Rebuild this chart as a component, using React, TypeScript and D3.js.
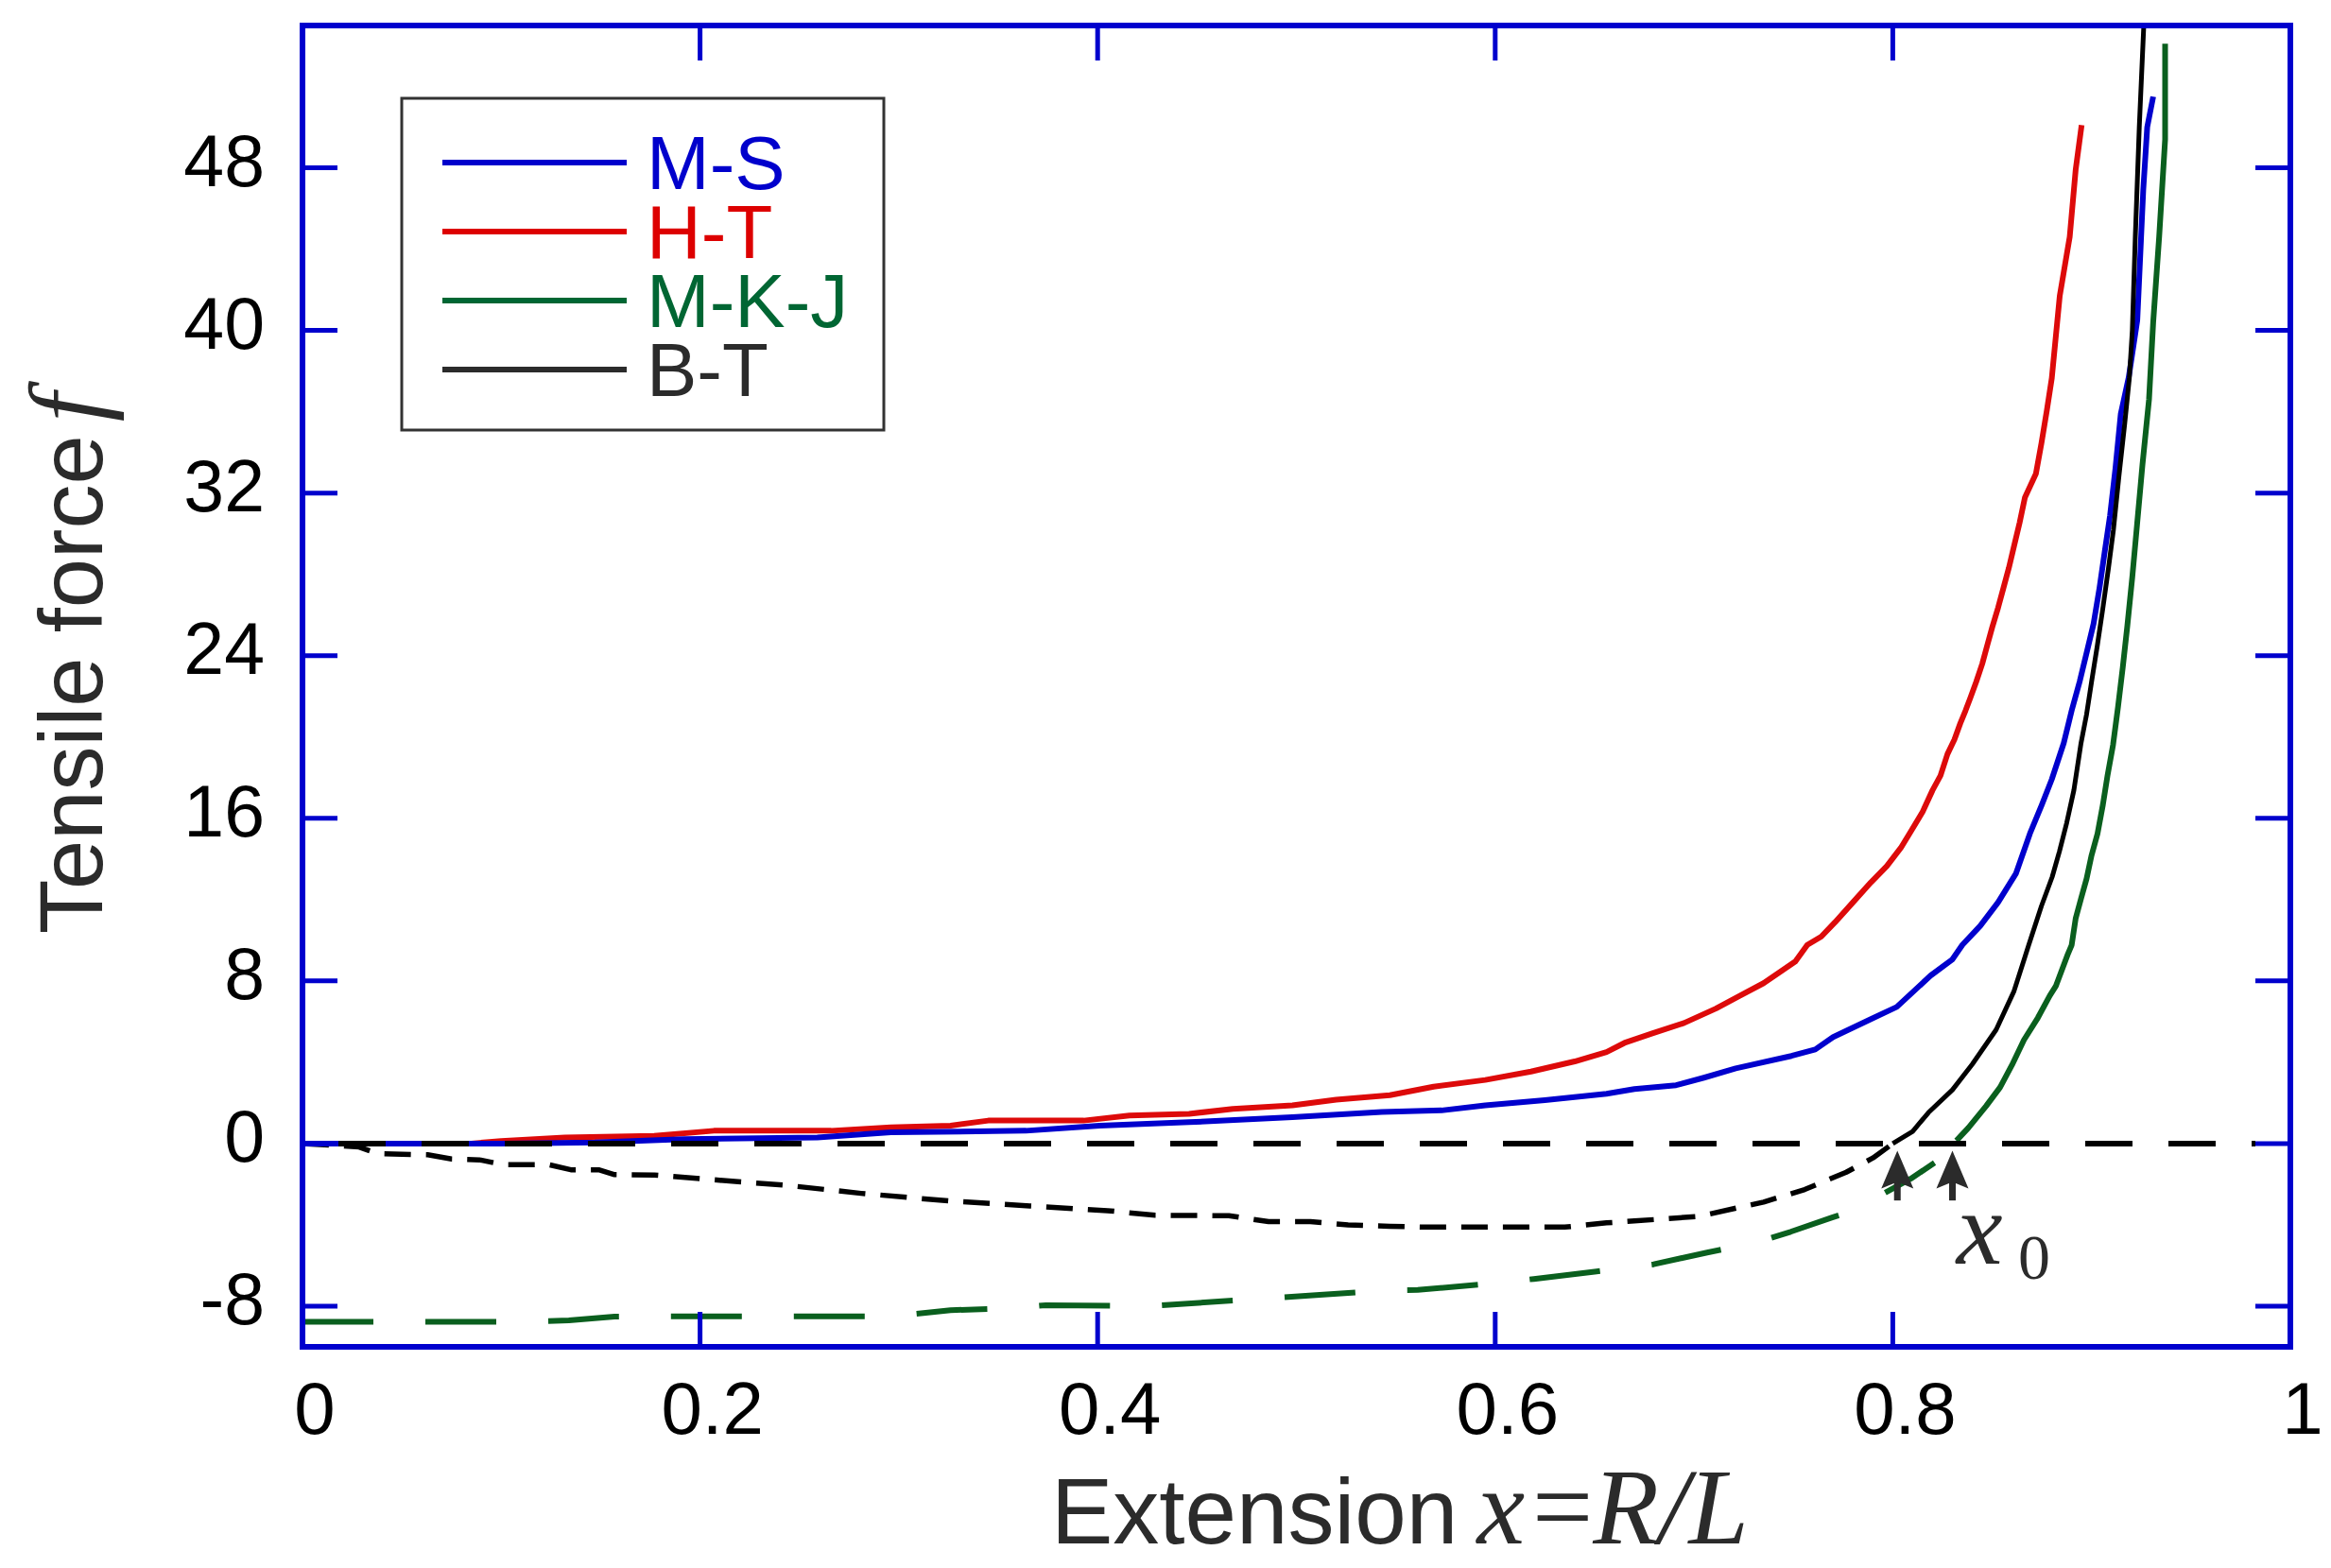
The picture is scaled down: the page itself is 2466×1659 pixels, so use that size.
import * as d3 from "d3"

// axis ticks
const xTicks = [0, 0.2, 0.4, 0.6, 0.8, 1]
const xTickLabels = ["0", "0.2", "0.4", "0.6", "0.8", "1"]
const yTicks = [-8, 0, 8, 16, 24, 32, 40, 48]

// series: [extension x, force f]
const msCurve: [number, number][] = [
  [0, 0], [0.10, 0], [0.147, 0.05], [0.192, 0.22], [0.259, 0.30], [0.296, 0.55],
  [0.364, 0.63], [0.401, 0.88], [0.446, 1.05], [0.498, 1.30], [0.543, 1.55],
  [0.573, 1.63], [0.595, 1.88], [0.625, 2.13], [0.656, 2.45], [0.670, 2.68],
  [0.691, 2.87], [0.705, 3.24], [0.721, 3.70], [0.749, 4.31], [0.761, 4.63],
  [0.770, 5.24], [0.790, 6.17], [0.802, 6.72], [0.819, 8.26], [0.830, 9.06],
  [0.835, 9.77], [0.844, 10.71], [0.853, 11.87], [0.862, 13.29], [0.869, 15.25],
  [0.875, 16.67], [0.880, 17.92], [0.886, 19.7], [0.890, 21.3], [0.894, 22.72],
  [0.8975, 24.14], [0.901, 25.57], [0.904, 27.34], [0.9066, 29.1], [0.9093, 30.9],
  [0.912, 33.2], [0.9147, 35.9], [0.9187, 37.7], [0.923, 40.5], [0.926, 46.9],
  [0.928, 50.0], [0.931, 51.5],
]

const htCurve: [number, number][] = [
  [0, 0], [0.085, 0], [0.10, 0.13], [0.132, 0.3], [0.177, 0.38], [0.207, 0.63],
  [0.266, 0.63], [0.296, 0.8], [0.326, 0.88], [0.345, 1.13], [0.393, 1.13],
  [0.416, 1.38], [0.446, 1.46], [0.468, 1.71], [0.498, 1.88], [0.520, 2.16],
  [0.547, 2.38], [0.569, 2.80], [0.595, 3.13], [0.618, 3.54], [0.640, 4.04],
  [0.656, 4.5], [0.665, 4.95], [0.679, 5.42], [0.695, 5.93], [0.711, 6.64],
  [0.723, 7.27], [0.735, 7.89], [0.751, 8.96], [0.757, 9.77], [0.764, 10.18],
  [0.771, 10.89], [0.780, 11.87], [0.789, 12.85], [0.797, 13.65], [0.804, 14.54],
  [0.809, 15.34], [0.815, 16.32], [0.820, 17.38], [0.824, 18.1], [0.8275, 19.16],
  [0.831, 19.87], [0.834, 20.68], [0.8366, 21.3], [0.839, 21.92], [0.842, 22.72],
  [0.845, 23.6], [0.8475, 24.5], [0.850, 25.39], [0.853, 26.37], [0.8557, 27.34],
  [0.8584, 28.32], [0.861, 29.39], [0.8638, 30.54], [0.8665, 31.79], [0.872, 32.95],
  [0.8748, 34.46], [0.8775, 36.06], [0.880, 37.66], [0.884, 41.7], [0.889, 44.6],
  [0.892, 47.9], [0.895, 50.1],
]

const mkjCurve: [number, number][] = [
  [0.832, 0.14], [0.838, 0.77], [0.847, 1.85], [0.854, 2.77], [0.860, 3.87],
  [0.866, 5.1], [0.873, 6.19], [0.879, 7.28], [0.882, 7.74], [0.888, 9.3],
  [0.890, 9.77], [0.892, 11.07], [0.8947, 12.05], [0.8975, 13.03], [0.900, 14.18],
  [0.903, 15.25], [0.9057, 16.67], [0.908, 18.09], [0.9108, 19.61], [0.9133, 21.47],
  [0.9157, 23.43], [0.918, 25.47], [0.9205, 27.88], [0.9229, 30.46], [0.9256, 33.39],
  [0.9289, 36.6], [0.931, 40.4], [0.934, 44.6], [0.937, 49.4], [0.937, 54.1],
]

const mkjNegative: [number, number][] = [
  [0, -8.77], [0.112, -8.77], [0.134, -8.7], [0.157, -8.51], [0.17, -8.5],
  [0.296, -8.5], [0.326, -8.2], [0.356, -8.1], [0.374, -7.95], [0.4245, -8.0],
  [0.4737, -7.69], [0.5117, -7.44], [0.5466, -7.22], [0.561, -7.2], [0.5956, -6.91],
  [0.6194, -6.66], [0.651, -6.29], [0.6797, -5.94], [0.7066, -5.36], [0.732, -4.85],
  [0.7486, -4.34], [0.7695, -3.64], [0.781, -3.27], [0.795, -2.48], [0.809, -1.73],
  [0.821, -0.95],
]

const btNegative: [number, number][] = [
  [0, 0], [0.0285, -0.17], [0.038, -0.5], [0.063, -0.55], [0.075, -0.76],
  [0.089, -0.8], [0.101, -1.04], [0.124, -1.04], [0.135, -1.29], [0.149, -1.29],
  [0.157, -1.53], [0.177, -1.55], [0.203, -1.75], [0.244, -2.06], [0.281, -2.45],
  [0.326, -2.83], [0.366, -3.07], [0.405, -3.3], [0.429, -3.53], [0.466, -3.55],
  [0.486, -3.84], [0.507, -3.84], [0.526, -4.0], [0.547, -4.07], [0.566, -4.11],
  [0.635, -4.11], [0.656, -3.9], [0.670, -3.81], [0.7025, -3.58], [0.735, -2.88],
  [0.7557, -2.26], [0.7766, -1.41], [0.790, -0.71], [0.800, 0],
]

const btCurve: [number, number][] = [
  [0.800, 0], [0.810, 0.6], [0.818, 1.53], [0.830, 2.64], [0.840, 3.9],
  [0.852, 5.6], [0.861, 7.5], [0.8684, 9.77], [0.8748, 11.69], [0.8802, 13.12],
  [0.8838, 14.36], [0.8875, 15.78], [0.8911, 17.38], [0.8947, 19.7], [0.8975, 21.12],
  [0.900, 22.72], [0.9029, 24.5], [0.9056, 26.28], [0.9084, 28.23], [0.911, 30.19],
  [0.9138, 32.86], [0.9166, 35.35], [0.919, 37.66], [0.9205, 40.0], [0.922, 44.6],
  [0.924, 50.0], [0.9265, 55.5],
]

const legendNames = ["M-S", "H-T", "M-K-J", "B-T"]
const legendColors = ["#0000cc", "#dd0000", "#006633", "#2b2b2b"]

// x0 arrows
const arrowX = [0.8023, 0.830]

const SANS = "'Liberation Sans', Arial, sans-serif"
const SERIF = "'Liberation Serif', 'Times New Roman', serif"
const AXIS = "#0000cd"
const INK = "#2b2b2b"

export default function App() {
  const W = 2466
  const H = 1659
  const left = 320
  const right = 2423
  const top = 27
  const bottom = 1425
  const tickLen = 37

  const x = d3.scaleLinear().domain([0, 1]).range([left, right])
  const y = d3.scaleLinear().domain([-10, 55]).range([bottom, top])

  const line = d3.line<[number, number]>()
    .x(d => x(d[0]))
    .y(d => y(d[1]))

  const arrowTip = y(-0.35)
  const arrowBase = y(-2.8)

  return (
    <svg width={W} height={H} viewBox={`0 0 ${W} ${H}`}
      style={{ position: "absolute", left: 0, top: 0, background: "#fff" }}>
      <defs>
        <clipPath id="plot">
          <rect x={left} y={top} width={right - left} height={bottom - top} />
        </clipPath>
      </defs>

      <g clipPath="url(#plot)" fill="none" strokeLinejoin="round">
        <path d={line(mkjNegative) ?? ""} stroke="#0a5f1e" strokeWidth={6} strokeDasharray="75 55" />
        <path d={line(btNegative) ?? ""} stroke="#000" strokeWidth={5.5} strokeDasharray="28 16" />
        <path d={line(htCurve) ?? ""} stroke="#dd0a0a" strokeWidth={6} />
        <path d={line(msCurve) ?? ""} stroke="#0000cd" strokeWidth={6} />
        <path d={line(mkjCurve) ?? ""} stroke="#0a5f1e" strokeWidth={6} />
        <path d={line(btCurve) ?? ""} stroke="#000" strokeWidth={5} />
        {/* zero reference */}
        <line x1={x(0)} x2={x(1) - tickLen} y1={y(0)} y2={y(0)}
          stroke="#000" strokeWidth={6} strokeDasharray="50 38" strokeDashoffset={-38} />
      </g>

      {/* arrows marking x0 */}
      {arrowX.map((v, i) => (
        <g key={i} fill={INK}>
          <rect x={x(v) - 3.5} y={arrowTip + 30} width={7} height={arrowBase - arrowTip - 30} />
          <path d={`M${x(v)},${arrowTip} L${x(v) + 17},${arrowTip + 40} L${x(v)},${arrowTip + 33} L${x(v) - 17},${arrowTip + 40} Z`} />
        </g>
      ))}
      <text x={x(0.832)} y={y(-5.93)} fontFamily={SERIF} fontStyle="italic" fontSize={110} fill={INK}>x</text>
      <text x={x(0.863)} y={y(-6.67)} fontFamily={SERIF} fontSize={68} fill={INK}>0</text>

      {/* frame */}
      <rect x={left} y={top} width={right - left} height={bottom - top}
        fill="none" stroke={AXIS} strokeWidth={6} />

      {/* y ticks */}
      {yTicks.map(t => (
        <g key={`y${t}`}>
          <line x1={left} x2={left + tickLen} y1={y(t)} y2={y(t)} stroke={AXIS} strokeWidth={5} />
          <line x1={right - tickLen} x2={right} y1={y(t)} y2={y(t)} stroke={AXIS} strokeWidth={5} />
          <text x={280} y={y(t) + 19} textAnchor="end" fontFamily={SANS} fontSize={77} fill="#000">{t}</text>
        </g>
      ))}

      {/* x ticks */}
      {xTicks.map((t, i) => (
        <g key={`x${t}`}>
          {t > 0 && t < 1 && (
            <>
              <line x1={x(t)} x2={x(t)} y1={bottom} y2={bottom - tickLen} stroke={AXIS} strokeWidth={5} />
              <line x1={x(t)} x2={x(t)} y1={top} y2={top + tickLen} stroke={AXIS} strokeWidth={5} />
            </>
          )}
          <text x={x(t) + 13} y={1517} textAnchor="middle" fontFamily={SANS} fontSize={78} fill="#000">{xTickLabels[i]}</text>
        </g>
      ))}

      {/* axis titles */}
      <text x={1112} y={1633} fontFamily={SANS} fontSize={98} fill={INK}>
        Extension
        <tspan dx={20} fontFamily={SERIF} fontStyle="italic" fontSize={114}>x</tspan>
        <tspan dx={8} fontFamily={SERIF} fontSize={114}>=</tspan>
        <tspan fontFamily={SERIF} fontStyle="italic" fontSize={114}>R/L</tspan>
      </text>
      <text transform="translate(108,988) rotate(-90)" fontFamily={SANS} fontSize={94} fill={INK}>
        Tensile force
        <tspan dx={14} fontFamily={SERIF} fontStyle="italic" fontSize={110}>f</tspan>
      </text>

      {/* legend */}
      <rect x={425} y={104} width={510} height={351} fill="#fff" stroke="#333" strokeWidth={3} />
      {legendNames.map((name, i) => {
        const ly = 172 + i * 73
        return (
          <g key={name}>
            <line x1={468} x2={663} y1={ly} y2={ly} stroke={legendColors[i]} strokeWidth={6} />
            <text x={684} y={ly + 28} fontFamily={SANS} fontSize={80} fill={legendColors[i]}>{name}</text>
          </g>
        )
      })}
    </svg>
  )
}
